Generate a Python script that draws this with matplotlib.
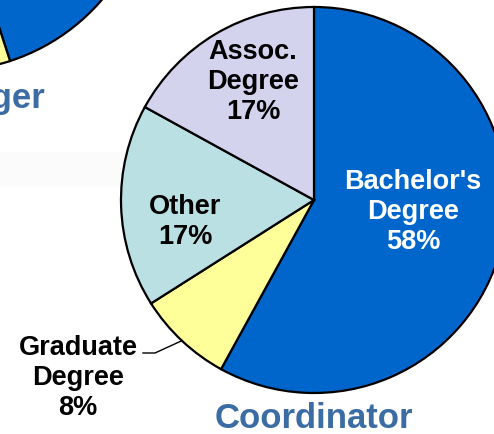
import matplotlib.pyplot as plt
import numpy as np

plt.rcParams['font.family'] = ['Liberation Sans', 'DejaVu Sans']

# Coordinator education breakdown (main pie)
labels = ["Bachelor's\nDegree", 'Graduate\nDegree', 'Other', 'Assoc.\nDegree']
shares = [58, 8, 17, 17]
colors = ['#0066CC', '#FFFF99', '#BBE0E3', '#D3D3EE']
label_colors = ['white', 'black', 'black', 'black']

# neighbouring (Manager) pie, only partly visible
mgr_shares = [45, 12, 20, 23]

title_color = '#3B6CA3'

fig = plt.figure(figsize=(4.94, 4.34), dpi=100)
ax = fig.add_axes([0, 0, 1, 1])

# faint grey band behind the left pie title
ax.axhspan(249, 282, xmin=0, xmax=0.26, color='#FBFBFB', zorder=0)

# partial Manager pie in the top left corner
ax.pie(mgr_shares, colors=colors, startangle=90, counterclock=False,
       center=(-53, 567), radius=204, frame=True,
       wedgeprops=dict(edgecolor='black', linewidth=1.6))
ax.text(45, 326, 'Manager', ha='right', va='baseline', fontsize=25,
        fontweight='bold', color=title_color)

# main Coordinator pie
cx, cy, r = 314, 234, 193
wedges, _ = ax.pie(shares, colors=colors, startangle=90, counterclock=False,
                   center=(cx, cy), radius=r, frame=True,
                   wedgeprops=dict(edgecolor='black', linewidth=1.6))
ax.set_xlim(0, 494)
ax.set_ylim(0, 434)
ax.set_aspect('equal')
ax.axis('off')

label_pos = [(413, 222), (78, 56), (185, 212), (253, 352)]
for lab, s, (lx, ly), c in zip(labels, shares, label_pos, label_colors):
    ax.text(lx, ly, f'{lab}\n{s}%', ha='center', va='center', fontsize=19.5,
            fontweight='bold', color=c, linespacing=1.2)

# leader line for the Graduate slice
w = wedges[1]
mid = np.deg2rad((w.theta1 + w.theta2) / 2)
ex, ey = cx + r * np.cos(mid), cy + r * np.sin(mid)
ax.plot([143, 155, ex], [81, 81, ey], color='black', linewidth=1)

ax.text(cx, 6, 'Coordinator', ha='center', va='baseline', fontsize=25,
        fontweight='bold', color=title_color)

fig.savefig('out.png', dpi=100)
